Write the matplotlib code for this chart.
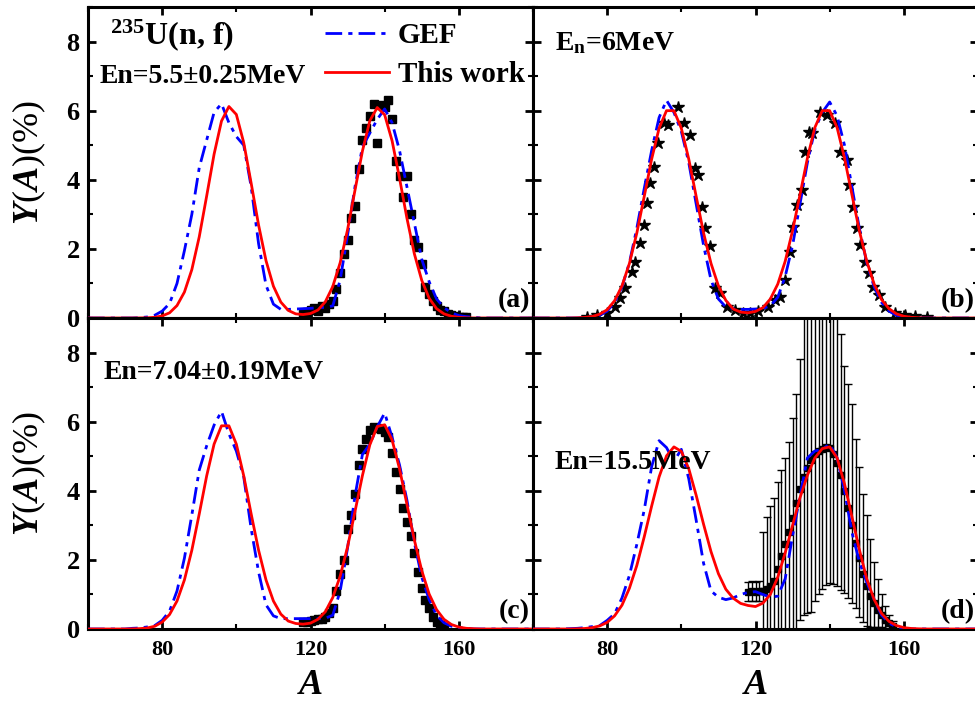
import matplotlib
matplotlib.use("Agg")
import matplotlib.pyplot as plt
from matplotlib.ticker import MultipleLocator

plt.rcParams["font.family"] = "Liberation Serif"
plt.rcParams["font.weight"] = "bold"
plt.rcParams["mathtext.fontset"] = "custom"
plt.rcParams["mathtext.rm"] = "Liberation Serif:bold"
plt.rcParams["mathtext.it"] = "Liberation Serif:bold:italic"
plt.rcParams["mathtext.bf"] = "Liberation Serif:bold"

# mass number grid shared by the calculated yield curves
A_GRID = list(range(60, 181, 2))

# ---- (a) En = 5.5 MeV ----
WORK_A = [0, 0, 0, 0, 0, 0, 0, 0.002, 0.006, 0.02,
          0.06, 0.15, 0.36, 0.75, 1.40, 2.35, 3.53, 4.74, 5.70, 6.12,
          5.89, 5.07, 3.90, 2.69, 1.66, 0.92, 0.46, 0.22, 0.12, 0.10,
          0.13, 0.23, 0.47, 0.91, 1.60, 2.56, 3.70, 4.83, 5.71, 6.09,
          5.88, 5.13, 4.05, 2.89, 1.86, 1.09, 0.57, 0.27, 0.12, 0.05,
          0.02, 0.005, 0, 0, 0, 0, 0, 0, 0, 0, 0]
GEF_A = [0, 0, 0, 0, 0, 0, 0, 0.01, 0.03, 0.08,
         0.2, 0.42, 1.0, 1.95, 3.0, 4.35, 5.15, 5.95, 6.2, 5.65,
         5.25, 5.0, 3.8, 2.15, 0.95, 0.4, 0.25, 0.25, 0.26, 0.27,
         0.28, 0.3, 0.31, 0.35, 1.1, 2.4, 3.8, 4.95, 5.35, 5.75,
         6.05, 5.65, 4.85, 3.8, 2.75, 1.7, 1.05, 0.55, 0.3, 0.15,
         0.07, 0.04, 0.02, 0, 0, 0, 0, 0, 0, 0, 0]
EXP_A_MASS = list(range(118, 163))
EXP_A_YIELD = [0.12, 0.18, 0.22, 0.3, 0.2, 0.35, 0.28, 0.4, 0.5, 0.85,
               1.3, 1.85, 2.25, 2.9, 3.25, 4.3, 5.15, 5.5, 5.85, 6.2,
               5.05, 6.15, 6.1, 6.3, 5.75, 4.55, 4.1, 3.5, 4.1, 3.0,
               2.25, 2.05, 1.55, 0.9, 0.7, 0.5, 0.35, 0.22, 0.2, 0.12,
               0.08, 0.06, 0.04, 0.03, 0.02]

# ---- (b) En = 6 MeV ----
WORK_B = [0, 0, 0, 0, 0, 0, 0.006, 0.017, 0.045, 0.11,
          0.24, 0.50, 0.93, 1.58, 2.46, 3.52, 4.60, 5.49, 6.00, 6.00,
          5.49, 4.60, 3.52, 2.46, 1.58, 0.93, 0.51, 0.26, 0.17, 0.15,
          0.19, 0.30, 0.55, 0.98, 1.64, 2.53, 3.57, 4.63, 5.51, 6.00,
          6.00, 5.51, 4.63, 3.57, 2.53, 1.64, 0.98, 0.53, 0.27, 0.12,
          0.05, 0.02, 0.007, 0, 0, 0, 0, 0, 0, 0, 0]
GEF_B = [0, 0, 0, 0, 0, 0, 0, 0.01, 0.03, 0.08,
         0.2, 0.45, 0.9, 1.6, 2.6, 3.75, 4.85, 5.8, 6.3, 5.95,
         5.4, 4.5, 3.3, 2.1, 1.1, 0.55, 0.32, 0.27, 0.25, 0.25,
         0.26, 0.28, 0.35, 0.6, 1.2, 2.1, 3.3, 4.5, 5.45, 5.95,
         6.25, 5.85, 5.0, 3.8, 2.6, 1.6, 0.9, 0.45, 0.2, 0.08,
         0.03, 0.01, 0, 0, 0, 0, 0, 0, 0, 0, 0]
EXP_B_MASS = [74.5, 77.2, 79.9, 82.1, 83.5, 84.8, 86.6, 87.5, 88.9, 89.8,
              90.7, 91.6, 92.5, 93.8, 95.2, 96.5, 99.2, 100.6, 102.4, 103.7,
              104.6, 105.5, 106.4, 107.8, 109.1, 110.5, 112.2, 114.5, 116.7, 118.5,
              120.8, 123.5, 125.3, 126.6, 128.0, 129.3, 130.2, 131.1, 132.5, 133.4,
              134.3, 135.2, 137.4, 139.2, 141.5, 142.8, 144.6, 145.1, 146.4, 147.3,
              148.2, 149.6, 150.5, 151.8, 153.2, 155.0, 157.7, 160.4, 163.1, 166.2]
EXP_B_YIELD = [0.04, 0.09, 0.14, 0.33, 0.57, 0.86, 1.34, 1.63, 2.16, 2.69,
               3.32, 3.90, 4.38, 5.05, 5.63, 5.59, 6.11, 5.63, 5.30, 4.33,
               4.14, 3.22, 2.60, 2.07, 0.86, 0.72, 0.33, 0.23, 0.14, 0.14,
               0.19, 0.33, 0.52, 0.62, 1.10, 1.92, 2.64, 3.27, 3.70, 4.81,
               5.39, 5.34, 5.97, 5.87, 5.63, 4.81, 4.57, 3.85, 3.20, 2.60,
               2.11, 1.63, 1.29, 0.91, 0.67, 0.33, 0.14, 0.09, 0.06, 0.04]

# ---- (c) En = 7.04 MeV ----
WORK_C = [0, 0, 0, 0, 0, 0, 0.004, 0.011, 0.03, 0.08,
          0.2, 0.42, 0.81, 1.42, 2.28, 3.33, 4.43, 5.35, 5.88, 5.88,
          5.35, 4.43, 3.33, 2.28, 1.42, 0.81, 0.43, 0.23, 0.16, 0.14,
          0.17, 0.28, 0.50, 0.91, 1.53, 2.38, 3.40, 4.44, 5.33, 5.86,
          5.91, 5.47, 4.64, 3.61, 2.58, 1.69, 1.01, 0.56, 0.28, 0.13,
          0.055, 0.02, 0.008, 0, 0, 0, 0, 0, 0, 0, 0]
GEF_C = [0, 0, 0, 0, 0, 0, 0.02, 0.03, 0.06, 0.1,
         0.25, 0.52, 1.1, 2.05, 3.3, 4.6, 5.3, 5.9, 6.3, 5.65,
         5.15, 4.4, 2.9, 1.65, 0.7, 0.38, 0.3, 0.3, 0.3, 0.3,
         0.3, 0.3, 0.31, 0.4, 1.1, 2.35, 3.85, 5.05, 5.35, 5.85,
         6.25, 5.55, 4.75, 3.73, 2.5, 1.5, 0.85, 0.4, 0.18, 0.08,
         0.04, 0.02, 0, 0, 0, 0, 0, 0, 0, 0, 0]
EXP_C_MASS = list(range(118, 157))
EXP_C_YIELD = [0.2, 0.2, 0.22, 0.25, 0.28, 0.3, 0.35, 0.45, 0.6, 1.1,
               1.6, 2.0, 2.9, 3.3, 3.9, 4.75, 5.2, 5.5, 5.75, 5.85,
               5.82, 5.78, 5.7, 5.55, 5.1, 4.55, 4.05, 3.5, 3.1, 2.7,
               2.2, 1.65, 1.2, 0.85, 0.6, 0.35, 0.2, 0.12, 0.06]

# ---- (d) En = 15.5 MeV ----
WORK_D = [0, 0, 0, 0, 0, 0, 0.006, 0.015, 0.04, 0.09,
          0.19, 0.38, 0.69, 1.18, 1.84, 2.67, 3.56, 4.40, 5.01, 5.27,
          5.14, 4.64, 3.87, 3.03, 2.24, 1.60, 1.15, 0.89, 0.74, 0.68,
          0.65, 0.75, 1.0, 1.5, 2.2, 3.0, 3.8, 4.45, 4.95, 5.22,
          5.27, 4.95, 4.2, 3.25, 2.3, 1.45, 0.85, 0.45, 0.22, 0.1,
          0.04, 0.015, 0.005, 0, 0, 0, 0, 0, 0, 0, 0]
GEF_D = [0, 0, 0, 0, 0, 0.01, 0.02, 0.04, 0.07, 0.1,
         0.25, 0.44, 0.9, 1.55, 2.45, 3.45, 4.7, 5.45, 5.25, 4.85,
         5.2, 4.35, 3.15, 1.9, 1.1, 0.92, 0.85, 0.9, 1.0, 1.06,
         1.08, 1.0, 0.92, 0.95, 1.45, 2.7, 3.85, 4.95, 5.15, 5.2,
         5.35, 4.95, 4.0, 2.8, 1.95, 1.35, 0.85, 0.4, 0.17, 0.06,
         0.02, 0, 0, 0, 0, 0, 0, 0, 0, 0, 0]
EXP_D_MASS = list(range(118, 158))
EXP_D_YIELD = [1.08, 1.1, 1.08, 1.1, 1.1, 1.15, 1.25, 1.4, 1.75, 2.1,
               2.45, 2.8, 3.2, 3.65, 4.05, 4.4, 4.65, 4.9, 5.05, 5.15,
               5.22, 5.28, 5.25, 5.05, 4.8, 4.45, 4.0, 3.5, 3.0, 2.5,
               2.05, 1.6, 1.25, 0.95, 0.75, 0.55, 0.4, 0.27, 0.16, 0.1]
EXP_D_ERR_DOWN = [0.28, 0.28, 0.28, 0.3, 1.1, 1.15, 1.25, 1.4, 1.75, 2.1,
                  2.45, 2.8, 3.2, 3.65, 3.8, 4.0, 4.2, 4.4, 4.25, 4.15,
                  4.07, 4.0, 3.93, 3.75, 3.55, 3.32, 2.95, 2.6, 2.26, 1.9,
                  1.7, 1.4, 1.15, 0.9, 0.7, 0.5, 0.35, 0.25, 0.15, 0.08]
EXP_D_ERR_UP = [0.28, 0.28, 0.28, 0.3, 1.7, 2.1, 2.3, 2.4, 2.5, 2.5,
                2.5, 2.6, 2.9, 3.15, 3.75, 4.6, 4.6, 4.5, 4.4, 4.3,
                4.2, 4.1, 4.1, 4.2, 4.3, 4.1, 3.6, 3.6, 3.5, 3.0,
                2.65, 2.3, 2.05, 1.65, 1.2, 0.9, 0.6, 0.4, 0.25, 0.12]

RED = "#ff0000"
BLUE = "#0000ff"

W, H = 975, 703
fig = plt.figure(figsize=(W / 100, H / 100), dpi=100)


def add_panel(x0, y0, x1, y1):
    """Axes placed by pixel box (left, top, right, bottom)."""
    return fig.add_axes([x0 / W, 1 - y1 / H, (x1 - x0) / W, (y1 - y0) / H])


ax_a = add_panel(88, 7, 533, 318)
ax_b = add_panel(533, 7, 978, 318)
ax_c = add_panel(88, 318, 533, 629)
ax_d = add_panel(533, 318, 978, 629)

for ax in (ax_a, ax_b, ax_c, ax_d):
    ax.set_xlim(60, 180)
    ax.set_ylim(0, 9)
    ax.xaxis.set_major_locator(MultipleLocator(40))
    ax.xaxis.set_minor_locator(MultipleLocator(20))
    ax.yaxis.set_major_locator(MultipleLocator(2))
    ax.yaxis.set_minor_locator(MultipleLocator(1))
    ax.tick_params(which="both", direction="in", top=True, right=True, width=2)
    ax.tick_params(which="major", length=6)
    ax.tick_params(which="minor", length=3.5, width=1.5)
    ax.tick_params(axis="x", labelsize=16, pad=8)
    ax.tick_params(axis="y", labelsize=19, pad=6)
    for sp in ax.spines.values():
        sp.set_linewidth(2.2)

for ax in (ax_a, ax_b):
    ax.tick_params(labelbottom=False)
for ax in (ax_b, ax_d):
    ax.tick_params(labelleft=False)


def draw_curves(ax, work, gef):
    ax.plot(A_GRID, gef, color=BLUE, lw=2.0, dashes=(6, 2.2, 1.5, 2.2),
            label="GEF", zorder=4)
    ax.plot(A_GRID, work, color=RED, lw=2.0, label="This work", zorder=5)


ax_a.plot(EXP_A_MASS, EXP_A_YIELD, "s", color="black", ms=6, zorder=3)
draw_curves(ax_a, WORK_A, GEF_A)

ax_b.plot(EXP_B_MASS, EXP_B_YIELD, "*", color="black", ms=9, zorder=3)
draw_curves(ax_b, WORK_B, GEF_B)

ax_c.plot(EXP_C_MASS, EXP_C_YIELD, "s", color="black", ms=6, zorder=3)
draw_curves(ax_c, WORK_C, GEF_C)

ax_d.errorbar(EXP_D_MASS, EXP_D_YIELD, yerr=[EXP_D_ERR_DOWN, EXP_D_ERR_UP],
              fmt="s", color="black", ms=4, elinewidth=1, capsize=3,
              capthick=1, zorder=3)
draw_curves(ax_d, WORK_D, GEF_D)

ax_a.legend(loc="upper right", bbox_to_anchor=(1.04, 1.035), frameon=False,
            fontsize=21, handlelength=2.2, handletextpad=0.3, labelspacing=0.4)

ax_a.text(0.049, 0.91, "$^{235}$U(n, f)", transform=ax_a.transAxes,
          fontsize=23, ha="left", va="center")
ax_a.text(0.027, 0.778, "En=5.5\u00b10.25MeV", transform=ax_a.transAxes,
          fontsize=20, ha="left", va="center")
ax_b.text(0.049, 0.884, r"E$_{\rm n}$=6MeV", transform=ax_b.transAxes,
          fontsize=20, ha="left", va="center")
ax_c.text(0.034, 0.826, "En=7.04\u00b10.19MeV", transform=ax_c.transAxes,
          fontsize=20, ha="left", va="center")
ax_d.text(0.049, 0.534, "En=15.5MeV", transform=ax_d.transAxes,
          fontsize=20, ha="left", va="center", zorder=6)

for ax, tag in ((ax_a, "(a)"), (ax_b, "(b)"), (ax_c, "(c)"), (ax_d, "(d)")):
    ax.text(0.993, 0.057, tag, transform=ax.transAxes, fontsize=20,
            ha="right", va="center")

for ax in (ax_a, ax_c):
    ax.set_ylabel(r"$\it{Y}$($\it{A}$)(%)", fontsize=26)
    ax.yaxis.set_label_coords(-0.09, 0.5)
for ax in (ax_c, ax_d):
    ax.set_xlabel(r"$\it{A}$", fontsize=26)
    ax.xaxis.set_label_coords(0.5, -0.13)

fig.savefig("out.png", dpi=100)
